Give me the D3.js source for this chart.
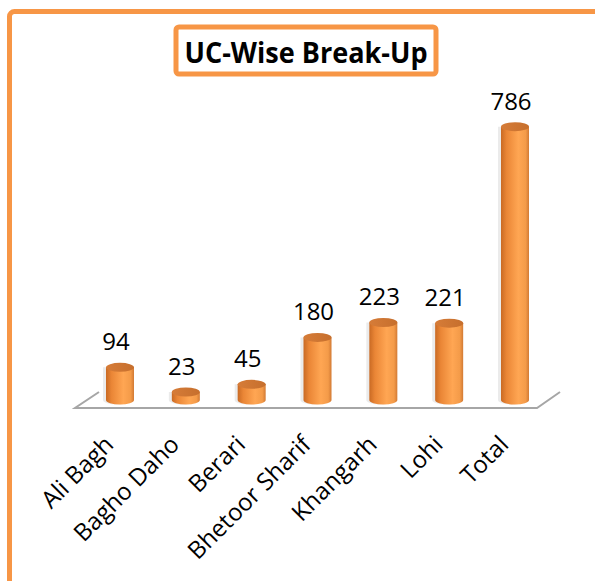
<!DOCTYPE html>
<html>
<head>
<meta charset="utf-8">
<script src="https://cdn.jsdelivr.net/npm/d3@7"></script>
<style>
  html, body { margin: 0; padding: 0; background: #fff; }
  svg { display: block; }
  text { font-family: "Open Sans", "Noto Sans", sans-serif; fill: #000; }
</style>
</head>
<body>
<div id="chart"></div>
<script>
const categories = ["Ali Bagh", "Bagho Daho", "Berari", "Bhetoor Sharif", "Khangarh", "Lohi", "Total"];
const values = [94, 23, 45, 180, 223, 221, 786];
const title = "UC-Wise Break-Up";

const W = 595, H = 581;
const orange = "#F79646";

const svg = d3.select("#chart").append("svg")
  .attr("width", W)
  .attr("height", H);

// gradients for the cylinders
const defs = svg.append("defs");
const body = defs.append("linearGradient").attr("id", "cylBody")
  .attr("x1", "0%").attr("x2", "100%").attr("y1", "0%").attr("y2", "0%");
body.append("stop").attr("offset", "0%").attr("stop-color", "#c96a24");
body.append("stop").attr("offset", "20%").attr("stop-color", "#ea8636");
body.append("stop").attr("offset", "62%").attr("stop-color", "#ffa653");
body.append("stop").attr("offset", "88%").attr("stop-color", "#f49b49");
body.append("stop").attr("offset", "100%").attr("stop-color", "#d27a34");

const cap = defs.append("linearGradient").attr("id", "cylTop")
  .attr("x1", "0%").attr("x2", "100%").attr("y1", "0%").attr("y2", "0%");
cap.append("stop").attr("offset", "0%").attr("stop-color", "#d67c38");
cap.append("stop").attr("offset", "100%").attr("stop-color", "#c66f2d");

// outer frame (runs off the right and bottom of the picture)
svg.append("rect")
  .attr("x", 9.5).attr("y", 11.5)
  .attr("width", 640).attr("height", 640)
  .attr("rx", 5)
  .attr("fill", "none")
  .attr("stroke", orange)
  .attr("stroke-width", 5);

// title box
svg.append("rect")
  .attr("x", 176).attr("y", 27)
  .attr("width", 260).attr("height", 47)
  .attr("rx", 3)
  .attr("fill", "#fff")
  .attr("stroke", orange)
  .attr("stroke-width", 5);

svg.append("text")
  .attr("x", 306).attr("y", 63)
  .attr("text-anchor", "middle")
  .attr("font-size", 28)
  .attr("font-weight", "bold")
  .attr("textLength", 243)
  .attr("lengthAdjust", "spacingAndGlyphs")
  .text(title);

// scales
const x = d3.scalePoint().domain(categories).range([120, 515]);
const y = d3.scaleLinear().domain([0, 900]).range([400, 87]);

const rx = 14, ry = 4.5;

// floor
const fl = x(categories[0]) - 45, fr = x(categories[categories.length - 1]) + 22;
svg.append("path")
  .attr("d", `M${fl + 24},392 L${fl},408 L${fr},408 L${fr + 23},392`)
  .attr("fill", "none")
  .attr("stroke", "#a6a6a6")
  .attr("stroke-width", 2);

// cylinders
const g = svg.append("g");
const bars = g.selectAll("g.bar")
  .data(categories.map((c, i) => ({ c, v: values[i] })))
  .join("g")
  .attr("class", "bar");

// faint shadow
bars.append("path")
  .attr("d", d => {
    const cx = x(d.c) - 3, y0 = y(0), y1 = y(d.v);
    return `M${cx - rx},${y1} L${cx - rx},${y0} A${rx},${ry} 0 0 0 ${cx + rx},${y0} L${cx + rx},${y1} Z`;
  })
  .attr("fill", "#000")
  .attr("opacity", 0.08);

bars.append("path")
  .attr("d", d => {
    const cx = x(d.c), y0 = y(0), y1 = y(d.v);
    return `M${cx - rx},${y1} L${cx - rx},${y0} A${rx},${ry} 0 0 0 ${cx + rx},${y0} L${cx + rx},${y1} Z`;
  })
  .attr("fill", "url(#cylBody)");

bars.append("ellipse")
  .attr("cx", d => x(d.c))
  .attr("cy", d => y(d.v))
  .attr("rx", rx).attr("ry", ry)
  .attr("fill", "url(#cylTop)");

// value labels
bars.append("text")
  .attr("x", d => x(d.c) - 4)
  .attr("y", d => y(d.v) - 17)
  .attr("text-anchor", "middle")
  .attr("font-size", 24)
  .text(d => d.v);

// category labels
svg.append("g").selectAll("text")
  .data(categories)
  .join("text")
  .attr("transform", d => `translate(${x(d) - 5},${446}) rotate(-45)`)
  .attr("text-anchor", "end")
  .attr("font-size", 24)
  .text(d => d);
</script>
</body>
</html>
